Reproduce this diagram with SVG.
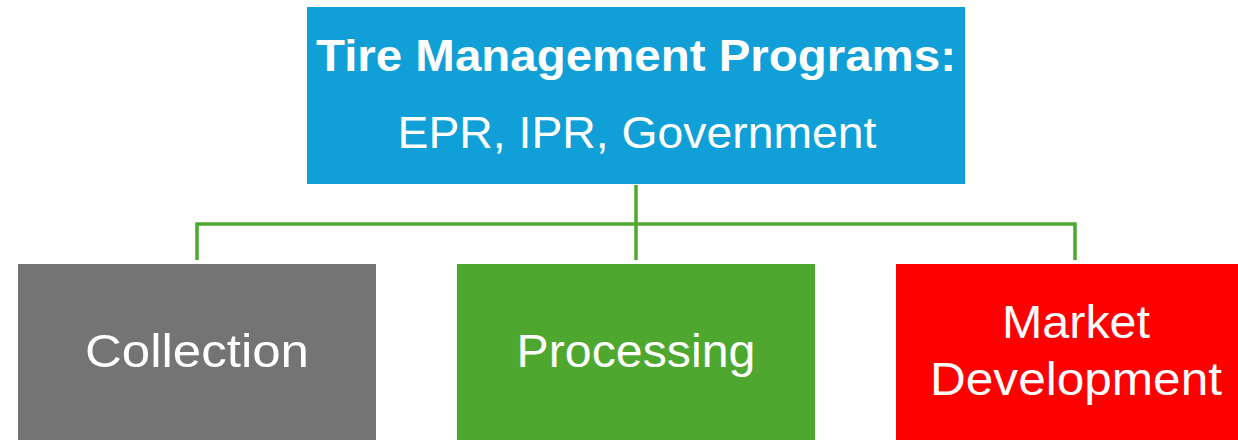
<svg xmlns="http://www.w3.org/2000/svg" width="1238" height="440" viewBox="0 0 1238 440">
<style>
.t{font-family:"Liberation Sans","Noto Sans",sans-serif;fill:#FFFFFF;text-anchor:middle}
.conn{fill:none;stroke:#4EA72E;stroke-width:3.5}
</style>
<rect width="1238" height="440" fill="#FFFFFF"/>
<g id="connectors">
<path class="conn" d="M636,185 V260"/>
<path class="conn" d="M197,260 V224 H1075 V260"/>
</g>
<g id="top">
<rect x="307" y="7" width="658" height="177" fill="#109FD6"/>
<text class="t" x="636" y="71" font-size="44" font-weight="bold" textLength="640" lengthAdjust="spacingAndGlyphs">Tire Management Programs:</text>
<text class="t" x="637" y="148" font-size="44" textLength="479" lengthAdjust="spacingAndGlyphs">EPR, IPR, Government</text>
</g>
<g id="collection">
<rect x="18" y="264" width="358" height="180" fill="#747474"/>
<text class="t" x="197" y="367" font-size="46" textLength="224" lengthAdjust="spacingAndGlyphs">Collection</text>
</g>
<g id="processing">
<rect x="457" y="264" width="358" height="180" fill="#4EA72E"/>
<text class="t" x="636" y="367" font-size="46" textLength="239" lengthAdjust="spacingAndGlyphs">Processing</text>
</g>
<g id="market">
<rect x="896" y="264" width="358" height="180" fill="#FF0000"/>
<text class="t" x="1076" y="338" font-size="46" textLength="148" lengthAdjust="spacingAndGlyphs">Market</text>
<text class="t" x="1076" y="395" font-size="46" textLength="292" lengthAdjust="spacingAndGlyphs">Development</text>
</g>
</svg>
